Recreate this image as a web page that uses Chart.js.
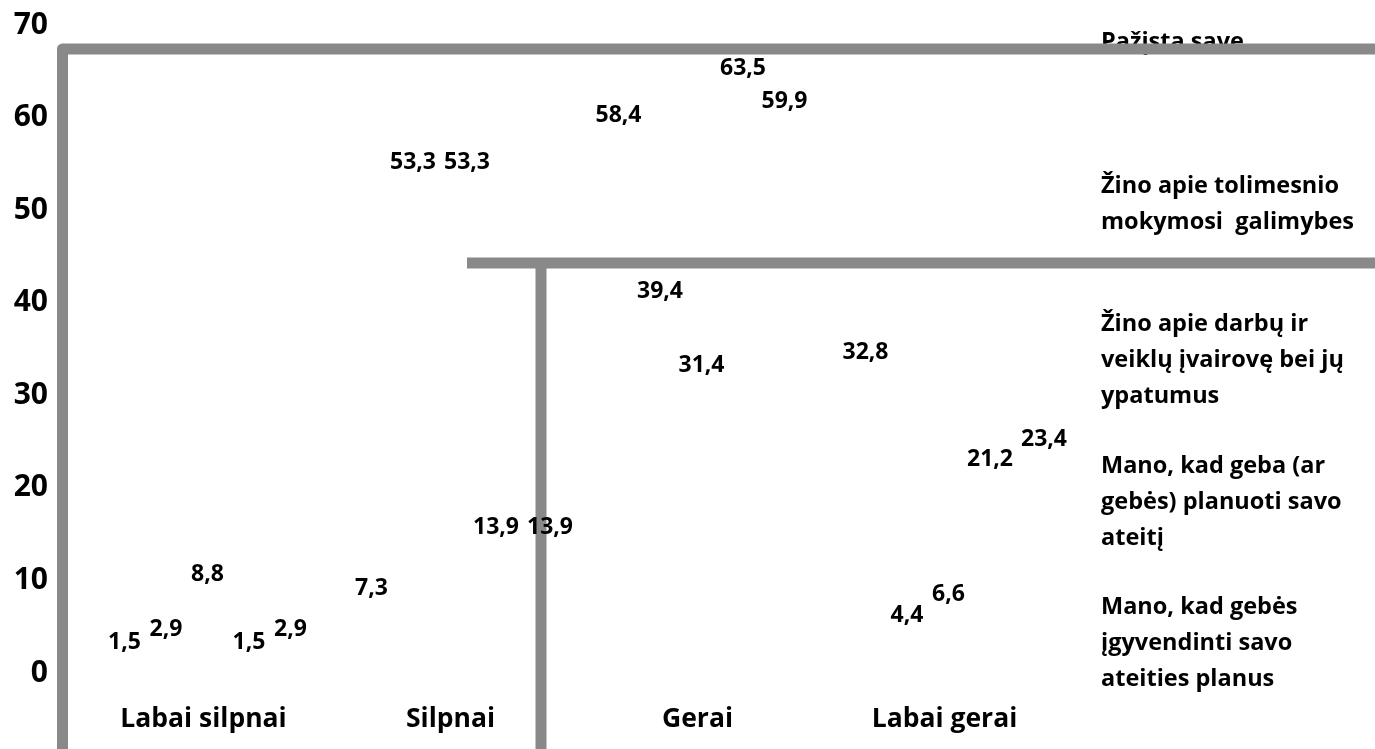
<!DOCTYPE html>
<html>
<head>
<meta charset="utf-8">
<script src="https://cdn.jsdelivr.net/npm/chart.js@4"></script>
<style>
  html, body { margin: 0; padding: 0; background: #fff; }
</style>
</head>
<body>
<canvas id="chart" width="1375" height="749"></canvas>
<script>
const categories = ['Labai silpnai', 'Silpnai', 'Gerai', 'Labai gerai'];
const seriesNames = [
  'Pažįsta save',
  'Žino apie tolimesnio mokymosi  galimybes',
  'Žino apie darbų ir veiklų įvairovę bei jų ypatumus',
  'Mano, kad geba (ar gebės) planuoti savo ateitį',
  'Mano, kad gebės įgyvendinti savo ateities planus'
];
// legend entries as they wrap in the picture
const legendLines = [
  ['Pažįsta save'],
  ['Žino apie tolimesnio', 'mokymosi  galimybes'],
  ['Žino apie darbų ir', 'veiklų įvairovę bei jų', 'ypatumus'],
  ['Mano, kad geba (ar', 'gebės) planuoti savo', 'ateitį'],
  ['Mano, kad gebės', 'įgyvendinti savo', 'ateities planus']
];
const pazistaSave = [1.5, 7.3, 58.4, 32.8];
const zinoMokymosi = [2.9, 53.3, 39.4, 4.4];
const zinoDarbu = [8.8, 53.3, 31.4, 6.6];
const gebaPlanuoti = [1.5, 13.9, 63.5, 21.2];
const gebesIgyvendinti = [2.9, 13.9, 59.9, 23.4];
const yMin = 0, yMax = 70, yStep = 10;

const FONT = '"Open Sans", sans-serif';
const GRAY = '#898989';

const seriesData = [pazistaSave, zinoMokymosi, zinoDarbu, gebaPlanuoti, gebesIgyvendinti];

// legend text and the grey frame lines, under the value labels
const decorations = {
  id: 'decorations',
  beforeDatasetsDraw(chart) {
    const ctx = chart.ctx;
    ctx.save();
    ctx.font = 'bold 23.5px ' + FONT;
    ctx.fillStyle = '#000';
    ctx.textAlign = 'left';
    ctx.textBaseline = 'alphabetic';
    const starts = [49, 193, 331, 473, 614];
    legendLines.forEach((lines, i) => {
      lines.forEach((t, k) => ctx.fillText(t, 1101, starts[i] + k * 36));
    });

    ctx.strokeStyle = GRAY;
    ctx.lineWidth = 11;
    ctx.lineJoin = 'round';
    ctx.beginPath();
    ctx.moveTo(62.5, 760);
    ctx.lineTo(62.5, 49);
    ctx.lineTo(1380, 49);
    ctx.stroke();

    ctx.lineJoin = 'miter';
    ctx.beginPath();
    ctx.moveTo(467, 263);
    ctx.lineTo(1380, 263);
    ctx.moveTo(541, 263);
    ctx.lineTo(541, 760);
    ctx.stroke();
    ctx.restore();
  }
};

// value labels above the (invisible) bars, nudged right when they collide
const valueLabels = {
  id: 'valueLabels',
  afterDatasetsDraw(chart) {
    const ctx = chart.ctx;
    ctx.save();
    ctx.font = 'bold 23px ' + FONT;
    ctx.fillStyle = '#000';
    ctx.textAlign = 'center';
    ctx.textBaseline = 'middle';
    const placed = categories.map(() => []);
    chart.data.datasets.forEach((ds, i) => {
      chart.getDatasetMeta(i).data.forEach((bar, j) => {
        const txt = String(ds.data[j]).replace('.', ',');
        const w = ctx.measureText(txt).width;
        let x = bar.x + 4;
        const y = bar.y - 17;
        placed[j].forEach(p => {
          if (Math.abs(p.y - y) < 22 && Math.abs(p.x - x) < (p.w + w) / 2 + 4) {
            x = p.x + (p.w + w) / 2 + 8;
          }
        });
        placed[j].push({ x, y, w });
        ctx.fillText(txt, x, y);
      });
    });
    ctx.restore();
  }
};

new Chart(document.getElementById('chart'), {
  type: 'bar',
  data: {
    labels: categories,
    datasets: seriesData.map((d, i) => ({
      label: seriesNames[i],
      data: d,
      backgroundColor: 'rgba(255,255,255,0)',
      borderWidth: 0,
      categoryPercentage: 0.84,
      barPercentage: 1
    }))
  },
  options: {
    responsive: false,
    animation: false,
    layout: { padding: { top: 25, right: 307, bottom: 0, left: 0 } },
    plugins: { legend: { display: false }, tooltip: { enabled: false } },
    scales: {
      x: {
        grid: { display: false, drawTicks: false },
        border: { display: false },
        ticks: { color: '#000', font: { family: FONT, size: 26.5, weight: 'bold' }, padding: 31, maxRotation: 0 },
        afterFit(scale) { scale.height = 76; }
      },
      y: {
        min: yMin,
        max: yMax,
        grid: { display: false, drawTicks: false },
        border: { display: false },
        ticks: { stepSize: yStep, color: '#000', font: { family: FONT, size: 30, weight: 'bold' }, padding: 32 },
        afterFit(scale) {
          scale.width = 80;
          scale.paddingTop = 0;
          scale.paddingBottom = 0;
        }
      }
    }
  },
  plugins: [decorations, valueLabels]
});
</script>
</body>
</html>
